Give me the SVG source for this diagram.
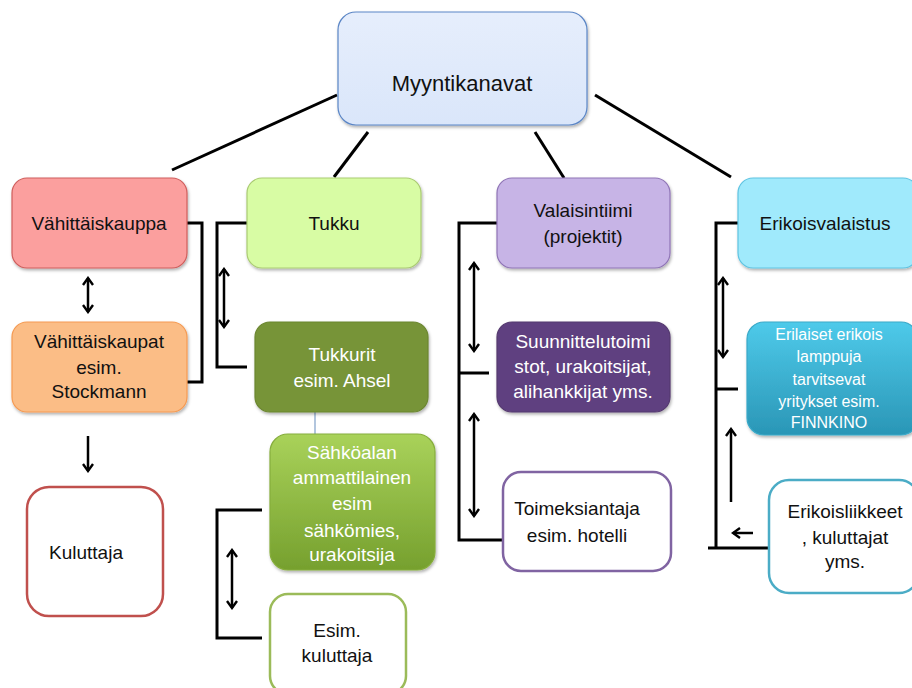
<svg xmlns="http://www.w3.org/2000/svg" width="912" height="688" viewBox="0 0 912 688">
<defs>
  <linearGradient id="gTop" x1="0" y1="0" x2="0" y2="1"><stop offset="0" stop-color="#e6eefc"/><stop offset="1" stop-color="#dae6fa"/></linearGradient>
  <linearGradient id="gSahko" x1="0" y1="0" x2="0" y2="1"><stop offset="0" stop-color="#a9d25a"/><stop offset="1" stop-color="#76a02e"/></linearGradient>
  <linearGradient id="gEril" x1="0" y1="0" x2="0" y2="1"><stop offset="0" stop-color="#4ecaea"/><stop offset="1" stop-color="#2a96b6"/></linearGradient>
  <filter id="sh" x="-10%" y="-10%" width="125%" height="130%"><feDropShadow dx="1" dy="2" stdDeviation="1.5" flood-color="#000" flood-opacity="0.3"/></filter>
  <marker id="ah" viewBox="0 0 12 12" refX="10" refY="6" markerWidth="12" markerHeight="12" markerUnits="userSpaceOnUse" orient="auto-start-reverse">
    <path d="M3,1 L10,6 L3,11" fill="none" stroke="#000" stroke-width="2.4"/>
  </marker>
</defs>
<style>
  text { font-family: "Liberation Sans", Arial, sans-serif; font-size: 19px; text-anchor: middle; fill: #111; }
  .w { fill: #fff; }
  .sm { font-size: 16px; }
  .big { font-size: 22px; }
  .con { fill: none; stroke: #000; stroke-width: 3; }
  .arr { fill: none; stroke: #000; stroke-width: 2.5; }
</style>

<g id="connectors">
  <line class="con" x1="172" y1="170" x2="337" y2="95"/>
  <line class="con" x1="368" y1="132" x2="334" y2="177"/>
  <line class="con" x1="535" y1="132" x2="564" y2="178"/>
  <line class="con" x1="595" y1="95" x2="731" y2="177"/>
  <polyline class="con" points="187,223 202,223 202,382 172,382"/>
  <polyline class="con" points="247,223 217,223 217,367 247,367"/>
  <polyline class="con" points="262,510 217,510 217,638 262,638"/>
  <polyline class="con" points="497,223 459,223 459,540 503,540"/>
  <line class="con" x1="459" y1="373" x2="489" y2="373"/>
  <polyline class="con" points="738,223 716,223 716,548"/>
  <line class="con" x1="716" y1="389" x2="738" y2="389"/>
  <line class="con" x1="708" y1="548" x2="769" y2="548"/>
  <line class="con" x1="315" y1="412" x2="315" y2="434" style="stroke:#7f9fc8;stroke-width:1.2"/>
  <line class="arr" x1="88" y1="278" x2="88" y2="312" marker-start="url(#ah)" marker-end="url(#ah)"/>
  <line class="arr" x1="224" y1="269" x2="224" y2="327" marker-start="url(#ah)" marker-end="url(#ah)"/>
  <line class="arr" x1="88" y1="436" x2="88" y2="471" marker-end="url(#ah)"/>
  <line class="arr" x1="232" y1="550" x2="232" y2="608" marker-start="url(#ah)" marker-end="url(#ah)"/>
  <line class="arr" x1="474" y1="263" x2="474" y2="351" marker-start="url(#ah)" marker-end="url(#ah)"/>
  <line class="arr" x1="474" y1="414" x2="474" y2="516" marker-start="url(#ah)" marker-end="url(#ah)"/>
  <line class="arr" x1="723" y1="278" x2="723" y2="357" marker-start="url(#ah)" marker-end="url(#ah)"/>
  <line class="arr" x1="731" y1="502" x2="731" y2="429" marker-end="url(#ah)"/>
  <line class="arr" x1="753" y1="533" x2="733" y2="533" marker-end="url(#ah)"/>
</g>

<g id="myyntikanavat">
  <rect x="338" y="12" width="249" height="113" rx="18" fill="url(#gTop)" stroke="#5b86c6" stroke-width="1.2" filter="url(#sh)"/>
  <text class="big" x="462" y="91">Myyntikanavat</text>
</g>
<g id="vahittaiskauppa">
  <rect x="12" y="178" width="175" height="90" rx="15" fill="#fb9f9e" stroke="#cf5e5c" stroke-width="1.2" filter="url(#sh)"/>
  <text x="99" y="230">Vähittäiskauppa</text>
</g>
<g id="tukku">
  <rect x="247" y="178" width="174" height="90" rx="15" fill="#d8fca4" stroke="#aacb72" stroke-width="1.2" filter="url(#sh)"/>
  <text x="334" y="230">Tukku</text>
</g>
<g id="valaisintiimi">
  <rect x="497" y="178" width="173" height="90" rx="15" fill="#c7b4e6" stroke="#8f74b6" stroke-width="1.2" filter="url(#sh)"/>
  <text x="583" y="217">Valaisintiimi</text>
  <text x="583" y="243">(projektit)</text>
</g>
<g id="erikoisvalaistus">
  <rect x="738" y="178" width="180" height="90" rx="15" fill="#a0eafc" stroke="#5fc4e2" stroke-width="1.2" filter="url(#sh)"/>
  <text x="825" y="230">Erikoisvalaistus</text>
</g>
<g id="vahittaiskaupat">
  <rect x="12" y="322" width="175" height="90" rx="15" fill="#fbbd86" stroke="#f59a52" stroke-width="1.2" filter="url(#sh)"/>
  <text x="99" y="348">Vähittäiskaupat</text>
  <text x="99" y="374">esim.</text>
  <text x="99" y="398">Stockmann</text>
</g>
<g id="tukkurit">
  <rect x="255" y="322" width="173" height="90" rx="15" fill="#779437" stroke="#6b8631" stroke-width="1.2" filter="url(#sh)"/>
  <text class="w" x="342" y="361">Tukkurit</text>
  <text class="w" x="342" y="387">esim. Ahsel</text>
</g>
<g id="sahkoalan">
  <rect x="270" y="434" width="165" height="136" rx="18" fill="url(#gSahko)" stroke="#86ad3c" stroke-width="1.2" filter="url(#sh)"/>
  <text class="w" x="352" y="459">Sähköalan</text>
  <text class="w" x="352" y="484">ammattilainen</text>
  <text class="w" x="352" y="510">esim</text>
  <text class="w" x="352" y="537">sähkömies,</text>
  <text class="w" x="352" y="561">urakoitsija</text>
</g>
<g id="esim-kuluttaja">
  <rect x="270" y="594" width="136" height="100" rx="18" fill="#fff" stroke="#9bbb59" stroke-width="2.5"/>
  <text x="337" y="637">Esim.</text>
  <text x="337" y="662">kuluttaja</text>
</g>
<g id="kuluttaja">
  <rect x="27" y="487" width="136" height="129" rx="22" fill="#fff" stroke="#c0504d" stroke-width="2.5"/>
  <text x="86" y="559">Kuluttaja</text>
</g>
<g id="suunnittelutoimistot">
  <rect x="497" y="322" width="173" height="90" rx="15" fill="#5e4180" stroke="#55396f" stroke-width="1.2" filter="url(#sh)"/>
  <text class="w" x="583" y="348">Suunnittelutoimi</text>
  <text class="w" x="583" y="373">stot, urakoitsijat,</text>
  <text class="w" x="583" y="398">alihankkijat yms.</text>
</g>
<g id="erilaiset">
  <rect x="747" y="322" width="171" height="113" rx="17" fill="url(#gEril)" stroke="#3aa9c8" stroke-width="1.2" filter="url(#sh)"/>
  <text class="w sm" x="829" y="340">Erilaiset erikois</text>
  <text class="w sm" x="829" y="362">lamppuja</text>
  <text class="w sm" x="829" y="385">tarvitsevat</text>
  <text class="w sm" x="829" y="407">yritykset esim.</text>
  <text class="w sm" x="829" y="428">FINNKINO</text>
</g>
<g id="toimeksiantaja">
  <rect x="503" y="472" width="168" height="99" rx="18" fill="#fff" stroke="#8064a2" stroke-width="2.5"/>
  <text x="577" y="515">Toimeksiantaja</text>
  <text x="577" y="542">esim. hotelli</text>
</g>
<g id="erikoisliikkeet">
  <rect x="769" y="480" width="150" height="113" rx="20" fill="#fff" stroke="#4bacc6" stroke-width="2.5"/>
  <text x="845" y="518">Erikoisliikkeet</text>
  <text x="845" y="544">, kuluttajat</text>
  <text x="845" y="568">yms.</text>
</g>
</svg>
